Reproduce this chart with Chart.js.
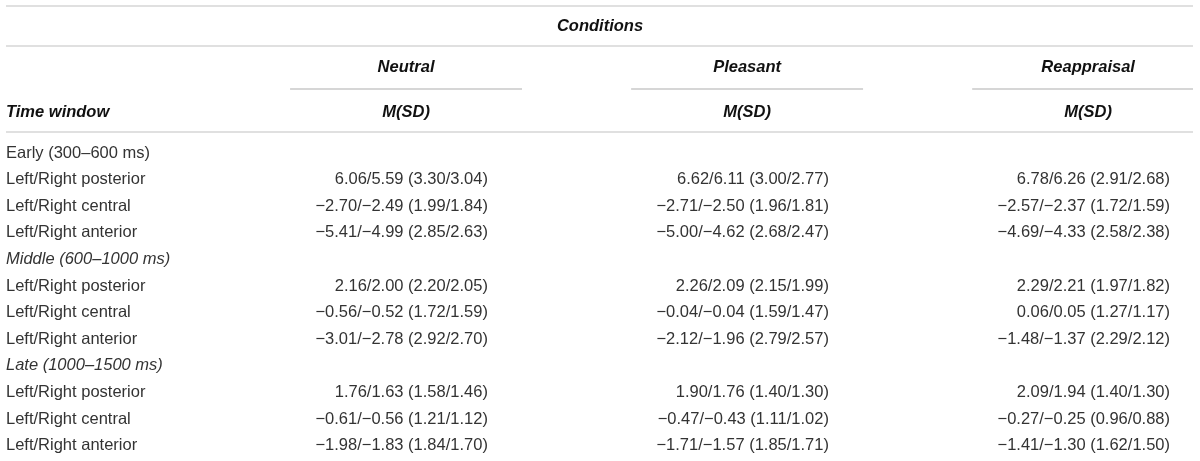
<!DOCTYPE html>
<html>
<head>
<meta charset="utf-8">
<script src="https://cdn.jsdelivr.net/npm/chart.js@4.4.1/dist/chart.umd.min.js"></script>
<style>
  html, body { margin: 0; padding: 0; background: #fff; }
  #wrap { width: 1200px; height: 461px; position: relative; }
</style>
</head>
<body>
<div id="wrap"><canvas id="tableChart"></canvas></div>
<script>
// Table data
const conditions = ['Neutral', 'Pleasant', 'Reappraisal'];
const timeWindows = ['Early (300–600 ms)', 'Middle (600–1000 ms)', 'Late (1000–1500 ms)'];
const regions = ['Left/Right posterior', 'Left/Right central', 'Left/Right anterior'];

// [left, right] per region row, in order early/middle/late x posterior/central/anterior
const neutralM = [[6.06, 5.59], [-2.70, -2.49], [-5.41, -4.99], [2.16, 2.00], [-0.56, -0.52], [-3.01, -2.78], [1.76, 1.63], [-0.61, -0.56], [-1.98, -1.83]];
const neutralSD = [[3.30, 3.04], [1.99, 1.84], [2.85, 2.63], [2.20, 2.05], [1.72, 1.59], [2.92, 2.70], [1.58, 1.46], [1.21, 1.12], [1.84, 1.70]];
const pleasantM = [[6.62, 6.11], [-2.71, -2.50], [-5.00, -4.62], [2.26, 2.09], [-0.04, -0.04], [-2.12, -1.96], [1.90, 1.76], [-0.47, -0.43], [-1.71, -1.57]];
const pleasantSD = [[3.00, 2.77], [1.96, 1.81], [2.68, 2.47], [2.15, 1.99], [1.59, 1.47], [2.79, 2.57], [1.40, 1.30], [1.11, 1.02], [1.85, 1.71]];
const reappraisalM = [[6.78, 6.26], [-2.57, -2.37], [-4.69, -4.33], [2.29, 2.21], [0.06, 0.05], [-1.48, -1.37], [2.09, 1.94], [-0.27, -0.25], [-1.41, -1.30]];
const reappraisalSD = [[2.91, 2.68], [1.72, 1.59], [2.58, 2.38], [1.97, 1.82], [1.27, 1.17], [2.29, 2.12], [1.40, 1.30], [0.96, 0.88], [1.62, 1.50]];

const meansByCondition = [neutralM, pleasantM, reappraisalM];
const sdsByCondition = [neutralSD, pleasantSD, reappraisalSD];

function fmt(v) {
    const s = Math.abs(v).toFixed(2);
    return (v < 0 ? '\u2212' : '') + s;
}

function cellText(m, sd) {
    return fmt(m[0]) + '/' + fmt(m[1]) + ' (' + fmt(sd[0]) + '/' + fmt(sd[1]) + ')';
}

// Build row list: a time-window header row followed by its three regions
const rows = [];
timeWindows.forEach(function (tw, t) {
    rows.push({ label: tw, italic: t > 0, dataIndex: -1 });
    regions.forEach(function (r, k) {
        rows.push({ label: r, italic: false, dataIndex: t * 3 + k });
    });
});

// one invisible point per value cell, placed on the scales
const datasets = conditions.map(function (c, ci) {
    const pts = [];
    rows.forEach(function (row, ri) {
        if (row.dataIndex >= 0) {
            pts.push({ x: ci + 1, y: ri, text: cellText(meansByCondition[ci][row.dataIndex], sdsByCondition[ci][row.dataIndex]) });
        }
    });
    return { label: c, data: pts, pointRadius: 0, pointHoverRadius: 0 };
});

// header rows / rules positions in row units (negative = above the first body row)
const ruleRows = [-5.53, -4.02, -0.79];
const conditionsTitleRow = -4.77;
const conditionNameRow = -3.23;
const underlineRow = -2.41;
const subHeaderRow = -1.54;
const underlineHalf = 0.34;
const valueAnchor = 0.24;

const headFont = 'italic bold 16.5px "Liberation Sans", Arial, sans-serif';
const bodyFont = '16.5px "Liberation Sans", Arial, sans-serif';
const bodyItalic = 'italic 16.5px "Liberation Sans", Arial, sans-serif';

const tablePlugin = {
    id: 'tableText',
    afterDatasetsDraw: function (chart) {
        const ctx = chart.ctx;
        const xs = chart.scales.x;
        const ys = chart.scales.y;
        const area = chart.chartArea;
        const left = area.left + 6;
        const right = area.right - 7;

        ctx.save();

        // horizontal rules
        ctx.strokeStyle = '#d6d6d6';
        ctx.lineWidth = 1.5;
        ruleRows.forEach(function (r) {
            const y = ys.getPixelForValue(r);
            ctx.beginPath();
            ctx.moveTo(left, y);
            ctx.lineTo(right, y);
            ctx.stroke();
        });

        // condition underlines
        ctx.strokeStyle = '#c8c8c8';
        conditions.forEach(function (c, ci) {
            const y = ys.getPixelForValue(underlineRow);
            const x0 = xs.getPixelForValue(ci + 1 - underlineHalf);
            const x1 = Math.min(right, xs.getPixelForValue(ci + 1 + underlineHalf));
            ctx.beginPath();
            ctx.moveTo(x0, y);
            ctx.lineTo(x1, y);
            ctx.stroke();
        });

        // header text
        ctx.fillStyle = '#111';
        ctx.font = headFont;
        ctx.textBaseline = 'middle';
        ctx.textAlign = 'center';
        ctx.fillText('Conditions', (area.left + area.right) / 2, ys.getPixelForValue(conditionsTitleRow));
        conditions.forEach(function (c, ci) {
            const x = xs.getPixelForValue(ci + 1);
            ctx.fillText(c, x, ys.getPixelForValue(conditionNameRow));
            ctx.fillText('M(SD)', x, ys.getPixelForValue(subHeaderRow));
        });
        ctx.textAlign = 'left';
        ctx.fillText('Time window', left, ys.getPixelForValue(subHeaderRow));

        // row labels
        ctx.fillStyle = '#333';
        rows.forEach(function (row, ri) {
            ctx.font = row.italic ? bodyItalic : bodyFont;
            ctx.fillText(row.label, left, ys.getPixelForValue(ri));
        });

        // value cells, right aligned
        ctx.font = bodyFont;
        ctx.textAlign = 'right';
        chart.data.datasets.forEach(function (ds, di) {
            ds.data.forEach(function (p) {
                const x = xs.getPixelForValue(p.x + valueAnchor);
                const y = ys.getPixelForValue(p.y);
                ctx.fillText(p.text, x, y);
            });
        });

        ctx.restore();
    }
};

new Chart(document.getElementById('tableChart'), {
    type: 'scatter',
    data: { datasets: datasets },
    options: {
        responsive: true,
        maintainAspectRatio: false,
        animation: false,
        layout: { padding: 0 },
        plugins: {
            legend: { display: false },
            tooltip: { enabled: false }
        },
        scales: {
            x: { type: 'linear', min: -0.1906, max: 3.328, display: false },
            y: { type: 'linear', min: -5.752, max: 11.579, reverse: true, display: false }
        }
    },
    plugins: [tablePlugin]
});
</script>
</body>
</html>
